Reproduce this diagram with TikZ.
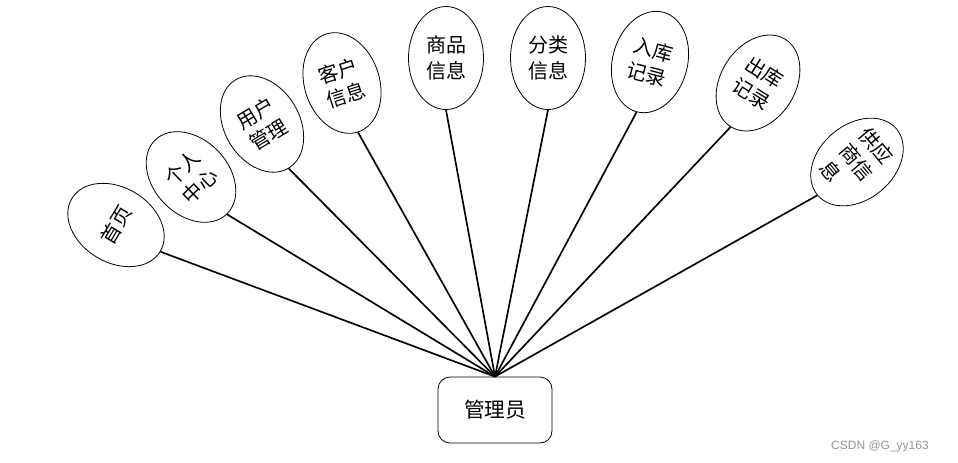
\documentclass[tikz,border=0pt]{standalone}
\usepackage{fontspec}
\newfontfamily\cjk{Noto Sans CJK SC}
\newfontfamily\wm{Liberation Sans}
\usetikzlibrary{shapes.geometric}
\tikzset{
  leaf/.style={ellipse,draw=black,line width=0.6pt,fill=white,inner sep=0pt,
    minimum width=56.25pt,minimum height=77.25pt,align=center,
    font=\cjk\fontsize{15}{19}\selectfont},
  rootbox/.style={draw=black,line width=0.6pt,rounded corners=9pt,fill=white,
    minimum width=85.5pt,minimum height=49.5pt,inner sep=0pt,
    font=\cjk\fontsize{15.5}{18}\selectfont},
  link/.style={line width=1.25pt,black},
  wmtext/.style={text=black!42,font=\wm\fontsize{9}{11}\selectfont,inner sep=0pt}
}
\begin{document}
\begin{tikzpicture}[x=0.75pt,y=-0.75pt]
\useasboundingbox (0,0) rectangle (958,462);
\node[rootbox] (root) at (495,410) {管理员};
\node[leaf,rotate=59] (e1) at (116,225) {首页};
\node[leaf,rotate=44] (e2) at (191,177) {个人\\中心};
\node[leaf,rotate=31] (e3) at (262,124) {用户\\管理};
\node[leaf,rotate=18] (e4) at (342,83) {客户\\信息};
\node[leaf] (e5) at (446,58) {商品\\信息};
\node[leaf] (e6) at (548,58) {分类\\信息};
\node[leaf,rotate=-15] (e7) at (650,62) {入库\\记录};
\node[leaf,rotate=-32] (e8) at (758,83) {出库\\记录};
\node[leaf,rotate=-50,align=left] (e9) at (857,162) {供应\\商信\\息};
\foreach \n in {e1,e2,e3,e4,e5,e6,e7,e8,e9}
  \draw[link] (root.north) -- (\n.south);
\node[wmtext] (wmk) at (880,446) {CSDN @G\_yy163};
\end{tikzpicture}
\end{document}
